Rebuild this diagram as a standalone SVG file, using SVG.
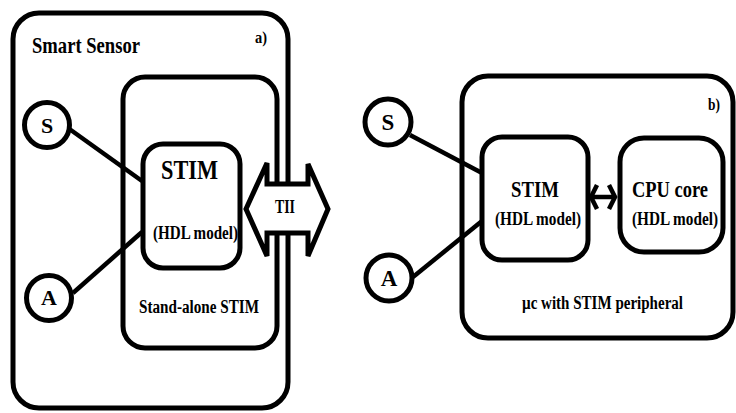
<svg xmlns="http://www.w3.org/2000/svg" width="736" height="413" viewBox="0 0 736 413">
<style>
.box{fill:none;stroke:#000;stroke-width:5}
.wbox{fill:#fff;stroke:#000;stroke-width:5}
.ln{fill:none;stroke:#000;stroke-width:4.5}
text{font-family:'Liberation Serif','Times New Roman',serif;font-weight:700;fill:#000}
.mid{text-anchor:middle}
</style>
<rect width="736" height="413" fill="#fff"/>
<g id="smart-sensor">
<rect class="box" x="13" y="13" width="275" height="395" rx="26"/>
<text x="32" y="53" font-size="23" textLength="108" lengthAdjust="spacingAndGlyphs">Smart Sensor</text>
<text x="255" y="43" font-size="16" textLength="12" lengthAdjust="spacingAndGlyphs">a)</text>
</g>
<g id="standalone-stim">
<rect class="box" x="123" y="77" width="154" height="271" rx="22"/>
<text x="139" y="313" font-size="18.5" textLength="120" lengthAdjust="spacingAndGlyphs">Stand-alone STIM</text>
</g>
<g id="connectors">
<line class="ln" x1="68" y1="128" x2="142" y2="181"/>
<line class="ln" x1="73" y1="293" x2="142" y2="232"/>
<line class="ln" x1="410" y1="135" x2="482" y2="173"/>
<line class="ln" x1="413" y1="277" x2="482" y2="221"/>
<line class="ln" x1="591" y1="197" x2="615" y2="197"/>
<polyline class="ln" points="597,185 591,197 597,209"/>
<polyline class="ln" points="609,185 615,197 609,209"/>
</g>
<g id="stim-a">
<rect class="wbox" x="143" y="144" width="97" height="124" rx="20"/>
<text x="161" y="179" font-size="27" textLength="57" lengthAdjust="spacingAndGlyphs">STIM</text>
<text x="153" y="239" font-size="18" textLength="85" lengthAdjust="spacingAndGlyphs">(HDL model)</text>
</g>
<g id="tii">
<polygon class="wbox" stroke-linejoin="miter" points="246,209 267,163 267,184 308,184 308,164 328,209 308,256 308,233 267,233 267,256"/>
<text x="275" y="213" font-size="19" textLength="20" lengthAdjust="spacingAndGlyphs">TII</text>
</g>
<g id="s-a">
<circle class="wbox" cx="47" cy="125" r="22.5"/>
<text class="mid" x="47" y="133" font-size="22">S</text>
</g>
<g id="a-a">
<circle class="wbox" cx="49" cy="298" r="22.5"/>
<text class="mid" x="49" y="305" font-size="22">A</text>
</g>
<g id="uc">
<rect class="box" x="462" y="76" width="271" height="262" rx="26"/>
<text x="708" y="110" font-size="16" textLength="12" lengthAdjust="spacingAndGlyphs">b)</text>
<text x="522" y="309" font-size="18" textLength="161" lengthAdjust="spacingAndGlyphs">µc with STIM peripheral</text>
</g>
<g id="stim-b">
<rect class="wbox" x="482" y="137" width="106" height="123" rx="20"/>
<text x="511" y="197" font-size="24" textLength="48" lengthAdjust="spacingAndGlyphs">STIM</text>
<text x="495" y="225" font-size="18" textLength="86" lengthAdjust="spacingAndGlyphs">(HDL model)</text>
</g>
<g id="cpu">
<rect class="wbox" x="620" y="138" width="103" height="114" rx="24"/>
<text x="632" y="197" font-size="24" textLength="76" lengthAdjust="spacingAndGlyphs">CPU core</text>
<text x="632" y="225" font-size="18" textLength="86" lengthAdjust="spacingAndGlyphs">(HDL model)</text>
</g>
<g id="s-b">
<circle class="wbox" cx="388" cy="122" r="23"/>
<text class="mid" x="388" y="130" font-size="23">S</text>
</g>
<g id="a-b">
<circle class="wbox" cx="389" cy="278" r="23"/>
<text class="mid" x="389" y="286" font-size="23">A</text>
</g>
</svg>
